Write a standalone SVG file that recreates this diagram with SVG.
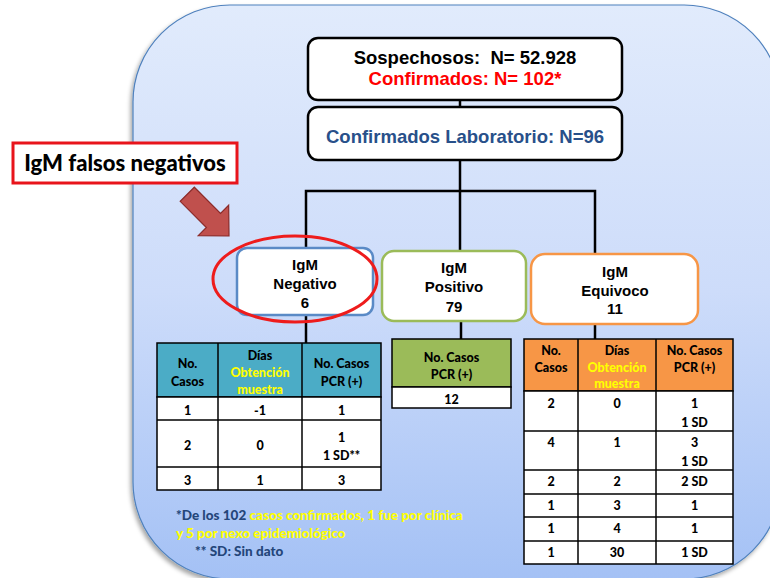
<svg xmlns="http://www.w3.org/2000/svg" width="770" height="578" viewBox="0 0 770 578">
<defs>
<linearGradient id="bg" x1="0" y1="0" x2="0" y2="1">
<stop offset="0" stop-color="#e1ebfc"/>
<stop offset="0.5" stop-color="#cddcfa"/>
<stop offset="1" stop-color="#a4c1f5"/>
</linearGradient>
<filter id="sh" x="-5%" y="-5%" width="110%" height="110%">
<feDropShadow dx="-2" dy="3" stdDeviation="2" flood-color="#000" flood-opacity="0.35"/>
</filter>
<style>
.box{fill:#fff;stroke:#000;stroke-width:2.5}
.ttl{font-family:"Liberation Sans",Arial,sans-serif;font-weight:bold;font-size:18.5px;text-anchor:middle;white-space:pre}
.nd{font-family:"Liberation Sans",Arial,sans-serif;font-weight:bold;font-size:15px;text-anchor:middle;fill:#000}
.t{font-family:Lato,"Open Sans",sans-serif;font-weight:900;font-size:12.5px;text-anchor:middle;fill:#000}
.t.y,.fn .y,.fn.y{fill:#ffff00}
.cell{fill:#fff;stroke:#000;stroke-width:1.5}
.ln{stroke:#000;stroke-width:2.5;fill:none}
.fn{font-family:Lato,"Open Sans",sans-serif;font-weight:900;font-size:13.5px;fill:#24467a}
</style>
</defs>

<rect x="133" y="5" width="648" height="574" rx="97" ry="97" fill="url(#bg)" stroke="#4f81bd" stroke-width="1.2" filter="url(#sh)"/>

<g id="connectors">
<line class="ln" x1="460" y1="100" x2="460" y2="107"/>
<line class="ln" x1="460" y1="160" x2="460" y2="191"/>
<polyline class="ln" points="306,250 306,191 595,191 595,256"/>
<line class="ln" x1="460" y1="191" x2="460" y2="252"/>
<line class="ln" x1="306" y1="315" x2="306" y2="343"/>
<line class="ln" x1="461" y1="321" x2="461" y2="339"/>
<line class="ln" x1="595" y1="324" x2="595" y2="339"/>
</g>

<g id="sospechosos">
<rect class="box" x="308" y="38" width="314" height="62" rx="10"/>
<text class="ttl" x="465" y="64" fill="#000">Sospechosos:  N= 52.928</text>
<text class="ttl" x="465" y="85" fill="#ff0000">Confirmados: N= 102*</text>
</g>

<g id="laboratorio">
<rect class="box" x="308" y="107" width="314" height="53" rx="10"/>
<text class="ttl" x="465" y="143" fill="#28508a">Confirmados Laboratorio: N=96</text>
</g>

<g id="igm-negativo">
<rect x="237" y="248" width="136" height="67" rx="10" fill="#fff" stroke="#5a8ac6" stroke-width="2.5"/>
<text class="nd" x="305" y="270">IgM</text>
<text class="nd" x="305" y="289">Negativo</text>
<text class="nd" x="305" y="308">6</text>
</g>

<g id="igm-positivo">
<rect x="382" y="251" width="144" height="70" rx="12" fill="#fff" stroke="#9bbb59" stroke-width="2.5"/>
<text class="nd" x="454" y="273">IgM</text>
<text class="nd" x="454" y="292">Positivo</text>
<text class="nd" x="454" y="312">79</text>
</g>

<g id="igm-equivoco">
<rect x="531" y="254" width="167" height="70" rx="14" fill="#fff" stroke="#f79646" stroke-width="2.5"/>
<text class="nd" x="615" y="277">IgM</text>
<text class="nd" x="615" y="296">Equivoco</text>
<text class="nd" x="615" y="314">11</text>
</g>

<g id="highlight">
<ellipse cx="295" cy="279" rx="82" ry="43" fill="none" stroke="#ee1c1c" stroke-width="3"/>
</g>

<g id="falsos-negativos">
<rect x="13" y="143" width="224" height="40" fill="#fff" stroke="#e8141b" stroke-width="3"/>
<text x="125" y="171" text-anchor="middle" font-family="Lato,'Open Sans',sans-serif" font-weight="900" font-size="22" fill="#000">IgM falsos negativos</text>
</g>

<g id="arrow">
<polygon transform="translate(229,236) rotate(45)" points="-59,-10 -22,-10 -22,-21.5 0,0 -22,21.5 -22,10 -59,10" fill="#c0504d" stroke="#8c2b29" stroke-width="1.2"/>
</g>

<g id="tabla-negativo">
<rect x="157" y="343" width="224" height="54" fill="#4bacc6" stroke="#000" stroke-width="1.5"/>
<rect class="cell" x="157" y="397" width="224" height="93"/>
<line x1="157" y1="420" x2="381" y2="420" stroke="#000" stroke-width="1.5"/>
<line x1="157" y1="467" x2="381" y2="467" stroke="#000" stroke-width="1.5"/>
<line x1="218" y1="343" x2="218" y2="490" stroke="#000" stroke-width="1.5"/>
<line x1="302" y1="343" x2="302" y2="490" stroke="#000" stroke-width="1.5"/>
<text class="t" x="187.5" y="367.5">No.</text>
<text class="t" x="187.5" y="385.5">Casos</text>
<text class="t" x="260" y="359.5">Días</text>
<text class="t y" x="260" y="376.5">Obtención</text>
<text class="t y" x="260" y="393.5">muestra</text>
<text class="t" x="341.5" y="367.5">No. Casos</text>
<text class="t" x="341.5" y="385.5">PCR (+)</text>
<text class="t" x="187.5" y="414.5">1</text>
<text class="t" x="260" y="414.5">-1</text>
<text class="t" x="341.5" y="414.5">1</text>
<text class="t" x="187.5" y="449.5">2</text>
<text class="t" x="260" y="449.5">0</text>
<text class="t" x="341.5" y="441.5">1</text>
<text class="t" x="341.5" y="459.5">1 SD**</text>
<text class="t" x="187.5" y="484.5">3</text>
<text class="t" x="260" y="484.5">1</text>
<text class="t" x="341.5" y="484.5">3</text>
</g>

<g id="tabla-positivo">
<rect x="392" y="339" width="119" height="48" fill="#9bbb59" stroke="#000" stroke-width="1.5"/>
<rect class="cell" x="392" y="387" width="119" height="21"/>
<text class="t" x="451.5" y="361.5">No. Casos</text>
<text class="t" x="451.5" y="378.5">PCR (+)</text>
<text class="t" x="451.5" y="404">12</text>
</g>

<g id="tabla-equivoco">
<rect x="524" y="339" width="209" height="52" fill="#f79646" stroke="#000" stroke-width="1.5"/>
<rect class="cell" x="524" y="391" width="209" height="173"/>
<line x1="524" y1="431" x2="733" y2="431" stroke="#000" stroke-width="1.5"/>
<line x1="524" y1="470" x2="733" y2="470" stroke="#000" stroke-width="1.5"/>
<line x1="524" y1="494" x2="733" y2="494" stroke="#000" stroke-width="1.5"/>
<line x1="524" y1="517" x2="733" y2="517" stroke="#000" stroke-width="1.5"/>
<line x1="524" y1="541" x2="733" y2="541" stroke="#000" stroke-width="1.5"/>
<line x1="578" y1="339" x2="578" y2="564" stroke="#000" stroke-width="1.5"/>
<line x1="656" y1="339" x2="656" y2="564" stroke="#000" stroke-width="1.5"/>
<text class="t" x="551" y="354.5">No.</text>
<text class="t" x="551" y="371.5">Casos</text>
<text class="t" x="617" y="354.5">Días</text>
<text class="t y" x="617" y="371.5">Obtención</text>
<text class="t y" x="617" y="387.5">muestra</text>
<text class="t" x="694.5" y="354.5">No. Casos</text>
<text class="t" x="694.5" y="371.5">PCR (+)</text>
<text class="t" x="551" y="407.5">2</text>
<text class="t" x="617" y="407.5">0</text>
<text class="t" x="694.5" y="407.5">1</text>
<text class="t" x="694.5" y="426.5">1 SD</text>
<text class="t" x="551" y="446.5">4</text>
<text class="t" x="617" y="446.5">1</text>
<text class="t" x="694.5" y="446.5">3</text>
<text class="t" x="694.5" y="465.5">1 SD</text>
<text class="t" x="551" y="485.5">2</text>
<text class="t" x="617" y="485.5">2</text>
<text class="t" x="694.5" y="485.5">2 SD</text>
<text class="t" x="551" y="509.5">1</text>
<text class="t" x="617" y="509.5">3</text>
<text class="t" x="694.5" y="509.5">1</text>
<text class="t" x="551" y="532.5">1</text>
<text class="t" x="617" y="532.5">4</text>
<text class="t" x="694.5" y="532.5">1</text>
<text class="t" x="551" y="556.5">1</text>
<text class="t" x="617" y="556.5">30</text>
<text class="t" x="694.5" y="556.5">1 SD</text>
</g>

<g id="nota">
<text class="fn" x="176" y="520">*De los 102 <tspan class="y">casos confirmados, 1 fue por clínica</tspan></text>
<text class="fn y" x="176" y="538">y 5 por nexo epidemiológico</text>
<text class="fn" x="195" y="556">** SD: Sin dato</text>
</g>
</svg>
